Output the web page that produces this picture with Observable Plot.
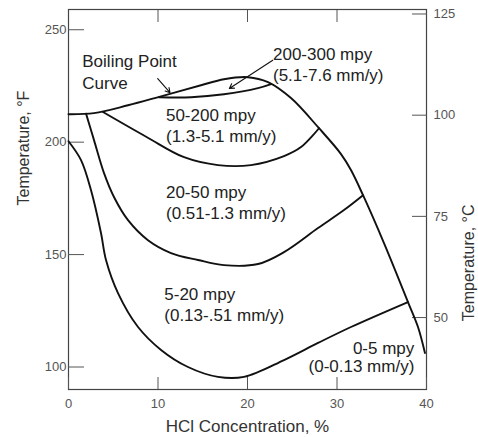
<!DOCTYPE html>
<html><head><meta charset="utf-8">
<script src="https://cdn.jsdelivr.net/npm/d3@7"></script>
<script src="https://cdn.jsdelivr.net/npm/@observablehq/plot@0.6"></script>
<style>body{margin:0;background:#fff}</style>
</head><body><div id="chart"></div>
<script>
// HCl concentration (%) and temperature (°F)
const boilingX = [0, 2.85, 6.65, 10.34, 14.8, 17.37, 20.06, 22.29, 24.86, 27.99, 30.45, 31.56, 32.91, 35.25, 37.93, 39.05, 39.83];
const boilingF = [212.4, 212.9, 216.4, 220.4, 225.3, 228.0, 228.9, 226.7, 219.6, 206.2, 194.7, 187.6, 176.4, 155.1, 128.9, 117.8, 106.2];

const iso200X = [10.11, 13.69, 17.37, 21.17, 22.63];
const iso200F = [220.0, 220.0, 221.3, 224.0, 225.8];

const iso50X = [3.85, 8.77, 12.91, 16.70, 20.39, 24.08, 25.98, 27.99];
const iso50F = [213.4, 202.2, 193.3, 189.8, 189.8, 193.8, 197.8, 206.2];

const iso20X = [1.96, 2.85, 3.97, 5.08, 6.65, 8.88, 11.45, 14.47, 17.37, 21.17, 24.08, 27.88, 30.78, 32.91];
const iso20F = [212.7, 200.9, 186.2, 175.6, 165.3, 156.4, 150.7, 147.6, 145.3, 145.8, 151.1, 161.8, 169.8, 176.4];

const iso5X = [0, 1.40, 2.51, 3.63, 4.19, 5.53, 7.77, 10.34, 13.35, 16.70, 19.61, 24.08, 27.88, 31.56, 37.93];
const iso5F = [200.4, 192.0, 178.7, 159.6, 147.6, 132.9, 117.8, 107.6, 100.0, 95.6, 95.6, 103.1, 110.7, 117.8, 128.9];

// zone labels (data coordinates)
const zoneText = ["Boiling Point\nCurve", "200-300 mpy\n(5.1-7.6 mm/y)", "50-200 mpy\n(1.3-5.1 mm/y)", "20-50 mpy\n(0.51-1.3 mm/y)", "5-20 mpy\n(0.13-.51 mm/y)", "0-5 mpy\n(0-0.13 mm/y)"];
const zoneX = [1.54, 22.85, 10.89, 10.89, 10.7, 38.64];
const zoneF = [231.6, 235.0, 207.6, 173.5, 128.0, 104.4];

// arrows (data coordinates)
const arrowX1 = [9.97, 22.82];
const arrowF1 = [228.3, 236.4];
const arrowX2 = [11.34, 17.97];
const arrowF2 = [222.0, 223.9];

const xTicks = [0, 10, 20, 30, 40];
const fTicks = [100, 150, 200, 250];
const cTicks = [50, 75, 100, 125];
const xTitle = "HCl Concentration, %";
const yTitleF = "Temperature, °F";
const yTitleC = "Temperature, °C";

const rows = (name, xs, ys) => xs.map((x, i) => ({curve: name, x, y: ys[i]}));
const curves = [
  ...rows("boiling", boilingX, boilingF),
  ...rows("200", iso200X, iso200F),
  ...rows("50", iso50X, iso50F),
  ...rows("20", iso20X, iso20F),
  ...rows("5", iso5X, iso5F)
];
const labels = zoneText.map((t, i) => ({text: t, x: zoneX[i], y: zoneF[i]}));
const arrows = arrowX1.map((x, i) => ({x1: x, y1: arrowF1[i], x2: arrowX2[i], y2: arrowF2[i]}));
const cToF = c => c * 9 / 5 + 32;

const chart = Plot.plot({
  width: 478, height: 437,
  marginLeft: 68, marginRight: 52, marginTop: 9, marginBottom: 48,
  x: {domain: [0, 40]},
  y: {domain: [90, 259]},
  style: {fontFamily: "'Liberation Sans', Arial, sans-serif", background: "#fff", color: "#333"},
  marks: [
    Plot.frame({stroke: "#444", strokeWidth: 1.2}),
    Plot.axisY({anchor: "left", ticks: fTicks, tickSize: -16, tickPadding: 18, fontSize: 13, color: "#555", label: null}),
    Plot.axisY({anchor: "right", ticks: cTicks.map(cToF), tickFormat: f => String(Math.round((f - 32) * 5 / 9)), tickSize: -15, tickPadding: 22, fontSize: 13, color: "#555", label: null}),
    Plot.axisX({anchor: "bottom", ticks: xTicks, tickSize: -12, tickPadding: 21, fontSize: 13, color: "#555", label: null}),
    Plot.axisX({anchor: "top", ticks: xTicks.slice(1, -1), tickSize: -12, tickFormat: () => "", color: "#555", label: null}),
    Plot.line(curves, {x: "x", y: "y", z: "curve", curve: "catmull-rom", stroke: "#111", strokeWidth: 1.9}),
    Plot.arrow(arrows, {x1: "x1", y1: "y1", x2: "x2", y2: "y2", stroke: "#111", strokeWidth: 1.1, headLength: 7}),
    Plot.text(labels.slice(0, 5), {x: "x", y: "y", text: "text", textAnchor: "start", lineAnchor: "middle", lineHeight: 1.25, fontSize: 17, fill: "#222"}),
    Plot.text(labels.slice(5), {x: "x", y: "y", text: "text", textAnchor: "end", lineAnchor: "middle", lineHeight: 1.1, fontSize: 17, fill: "#222"}),
    Plot.text([xTitle], {text: d => d, frameAnchor: "bottom", dy: 37, lineAnchor: "middle", fontSize: 17, fill: "#333"}),
    Plot.text([yTitleF], {text: d => d, frameAnchor: "left", rotate: -90, dx: -45, dy: 6, lineAnchor: "middle", fontSize: 16, fill: "#333"}),
    Plot.text([yTitleC], {text: d => d, frameAnchor: "right", rotate: -90, dx: 42, dy: 5, lineAnchor: "middle", fontSize: 16, fill: "#333"})
  ]
});
document.getElementById("chart").appendChild(chart);
</script>
</body></html>
